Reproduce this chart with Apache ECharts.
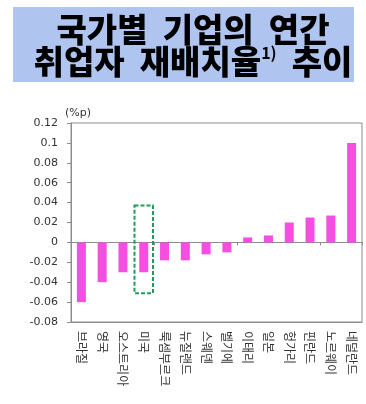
<!DOCTYPE html>
<html>
<head>
<meta charset="utf-8">
<script src="https://cdn.jsdelivr.net/npm/echarts@6/dist/echarts.min.js"></script>
<style>
  html, body { margin: 0; padding: 0; background: #fff; }
  #chart { width: 366px; height: 404px; }
</style>
</head>
<body>
<div id="chart"></div>
<script>
// Countries, ordered from largest decline to largest rise
const countries = ['브라질', '영국', '오스트리아', '미국', '룩셈부르크', '뉴질랜드', '스웨덴', '벨기에', '이태리', '일본', '헝가리', '핀란드', '노르웨이', '네덜란드'];
// Change in the annual employment reallocation rate (%p)
const reallocationChange = [-0.06, -0.04, -0.03, -0.03, -0.018, -0.018, -0.012, -0.01, 0.005, 0.007, 0.02, 0.025, 0.027, 0.1];
// Value-axis ticks
const yMin = -0.08;
const yMax = 0.12;
const yStep = 0.02;
// Highlighted country and the vertical extent of its dashed frame
const highlightCountry = '미국';
const highlightRange = [-0.051, 0.037];

const chart = echarts.init(document.getElementById('chart'), null, { renderer: 'canvas' });

const axisGray = '#8c8c8c';
const labelColor = '#333';

chart.setOption({
  animation: false,
  backgroundColor: '#fff',
  graphic: [
    {
      type: 'rect',
      shape: { x: 13, y: 7, width: 341, height: 75 },
      style: { fill: '#b0c4f0' },
      z: 0
    },
    {
      type: 'text',
      x: 193,
      y: 13,
      z: 1,
      style: {
        text: '국가별  기업의  연간\n취업자  재배치율{sup|1)}  추이',
        fill: '#000',
        font: '900 33px "Noto Sans CJK KR"',
        align: 'center',
        verticalAlign: 'top',
        lineHeight: 32,
        rich: {
          sup: {
            fontSize: 16,
            fontWeight: 'bold',
            fontFamily: 'Noto Sans CJK KR',
            fill: '#000',
            verticalAlign: 'top',
            lineHeight: 32,
            padding: [0, 0, 14, 0]
          }
        }
      }
    }
  ],
  grid: {
    left: 71,
    right: 4,
    top: 123,
    bottom: 82,
    show: true,
    borderColor: axisGray,
    borderWidth: 1,
    backgroundColor: 'transparent'
  },
  xAxis: [
    {
      type: 'category',
      data: countries,
      position: 'bottom',
      axisLine: { onZero: false, lineStyle: { color: axisGray } },
      axisTick: { show: false },
      axisLabel: {
        rotate: -90,
        interval: 0,
        margin: 9,
        fontSize: 12,
        color: labelColor,
        fontFamily: 'Noto Sans CJK KR'
      }
    },
    {
      type: 'category',
      data: countries,
      position: 'top',
      axisLine: { onZero: true, lineStyle: { color: axisGray } },
      axisTick: { show: true, inside: true, length: 3, lineStyle: { color: axisGray } },
      axisLabel: { show: false }
    }
  ],
  yAxis: {
    type: 'value',
    min: yMin,
    max: yMax,
    interval: yStep,
    name: '(%p)',
    nameLocation: 'end',
    nameGap: 4,
    nameTextStyle: {
      align: 'left',
      padding: [0, 0, 0, -6],
      fontSize: 11,
      color: labelColor,
      fontFamily: 'DejaVu Sans'
    },
    axisLine: { show: true, lineStyle: { color: axisGray } },
    axisTick: { show: true, length: 4, lineStyle: { color: axisGray } },
    splitLine: { show: false },
    axisLabel: {
      margin: 13,
      fontSize: 11,
      color: labelColor,
      fontFamily: 'DejaVu Sans'
    }
  },
  series: [
    {
      type: 'bar',
      xAxisIndex: 0,
      data: reallocationChange,
      barWidth: 9,
      itemStyle: { color: '#f54ee0' },
      z: 2
    },
    {
      // dashed frame around the highlighted country
      type: 'custom',
      xAxisIndex: 0,
      data: [[countries.indexOf(highlightCountry), highlightRange[0], highlightRange[1]]],
      renderItem: function (params, api) {
        const idx = api.value(0);
        const bottom = api.coord([idx, api.value(1)]);
        const top = api.coord([idx, api.value(2)]);
        const band = api.size([1, 0])[0];
        const w = band * 0.89;
        return {
          type: 'rect',
          shape: { x: bottom[0] - w / 2, y: top[1], width: w, height: bottom[1] - top[1] },
          style: {
            fill: 'none',
            stroke: '#23995a',
            lineWidth: 2,
            lineDash: [4, 2]
          }
        };
      },
      z: 3,
      silent: true
    }
  ]
});
</script>
</body>
</html>
